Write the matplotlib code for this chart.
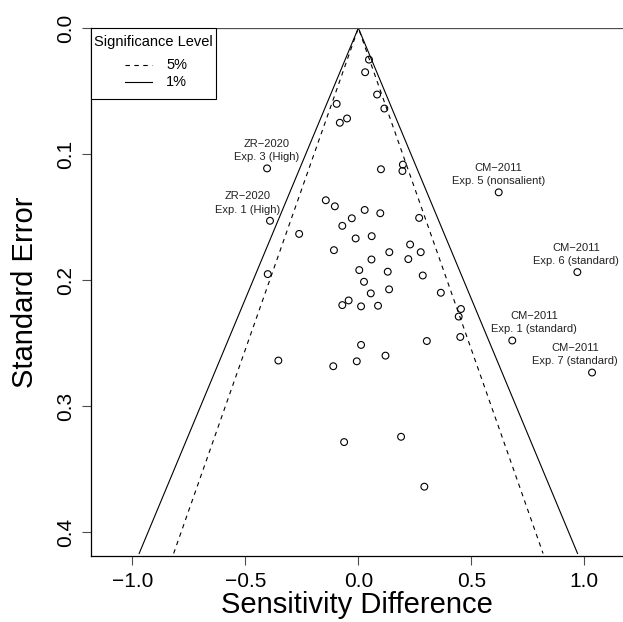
import numpy as np
import matplotlib
matplotlib.use("Agg")
import matplotlib.pyplot as plt
from matplotlib.patches import Rectangle

plt.rcParams['font.family'] = ['Liberation Sans', 'DejaVu Sans']

# effect sizes (sensitivity difference) and standard errors
diff = [0.047, 0.030, 0.083, 0.115, -0.096, -0.082, -0.050, 0.100, 0.197, 0.195,
        -0.262, -0.401, -0.144, -0.104, 0.028, 0.097, -0.029, -0.071, -0.012, 0.059,
        -0.108, 0.058, 0.004, 0.269, 0.229, 0.137, 0.276, 0.221, 0.130, 0.285,
        0.025, 0.055, 0.136, 0.365, -0.071, -0.043, 0.012, 0.087, 0.012, -0.354,
        -0.111, -0.007, 0.120, 0.303, -0.063, 0.189, 0.454, 0.444, 0.451, 0.292]
se = [0.0251, 0.0351, 0.0528, 0.0639, 0.0602, 0.0752, 0.0718, 0.1121, 0.1084, 0.1135,
      0.1634, 0.1953, 0.1367, 0.1415, 0.1444, 0.1470, 0.1510, 0.1570, 0.1670, 0.1652,
      0.1763, 0.1837, 0.1921, 0.1507, 0.1718, 0.1779, 0.1779, 0.1834, 0.1934, 0.1964,
      0.2014, 0.2106, 0.2074, 0.2101, 0.2199, 0.2162, 0.2209, 0.2204, 0.2515, 0.2639,
      0.2684, 0.2645, 0.2600, 0.2484, 0.3286, 0.3244, 0.2230, 0.2290, 0.2452, 0.3640]

# labelled studies, with where their labels sit
lab_diff = [-0.404, -0.391, 0.621, 0.969, 0.681, 1.034]
lab_se = [0.1114, 0.1530, 0.1304, 0.1937, 0.2480, 0.2734]
lab_text_x = [-0.404, -0.491, 0.620, 0.963, 0.777, 0.959]
lab_text = ["ZR\u22122020\nExp. 3 (High)", "ZR\u22122020\nExp. 1 (High)",
            "CM\u22122011\nExp. 5 (nonsalient)", "CM\u22122011\nExp. 6 (standard)",
            "CM\u22122011\nExp. 1 (standard)", "CM\u22122011\nExp. 7 (standard)"]

levels = ["5%", "1%"]
z_crit = [1.96, 2.326]
styles = [(0, (4, 4)), '-']

se_max = 0.417

fig = plt.figure(figsize=(6.23, 6.22), dpi=100)
ax = fig.add_axes([91 / 623, 66 / 622, 1 - 91 / 623, (556 - 28) / 622])

for z, ls in zip(z_crit, styles):
    ax.plot([-z * se_max, 0, z * se_max], [se_max, 0, se_max], color='black',
            lw=0.8, ls=ls)

ax.axhline(0, color='0.3', lw=0.9)

ax.scatter(diff + lab_diff, se + lab_se, s=24, facecolors='none',
           edgecolors='black', linewidths=0.8, zorder=3)

for x, tx, y, t in zip(lab_diff, lab_text_x, lab_se, lab_text):
    ax.annotate(t, (tx, y), xytext=(0, 4.5), textcoords='offset points',
                ha='center', va='bottom', fontsize=8, color='#222222',
                linespacing=1.4)

ax.set_xlim(-1.183, 1.171)
ax.set_ylim(se_max + 0.002, 0)
ax.set_xticks([-1.0, -0.5, 0.0, 0.5, 1.0])
ax.set_xticklabels(['\u22121.0', '\u22120.5', '0.0', '0.5', '1.0'])
ax.set_yticks([0.0, 0.1, 0.2, 0.3, 0.4])
ax.set_yticklabels(['0.0', '0.1', '0.2', '0.3', '0.4'], rotation=90, va='center')
ax.tick_params(labelsize=15, length=6.5, width=0.8, color='0.3', pad=5)
ax.spines['top'].set_visible(False)
ax.spines['right'].set_visible(False)
ax.spines['left'].set_linewidth(0.9)
ax.spines['bottom'].set_linewidth(0.9)

ax.set_xlabel('Sensitivity Difference', fontsize=21, labelpad=0)
ax.set_ylabel('Standard Error', fontsize=21, labelpad=12)

# legend box drawn by hand (R style spacing)
tr = ax.transAxes
ax.add_patch(Rectangle((0, 0.8655), 0.235, 0.1345, transform=tr, facecolor='white',
                       edgecolor='black', lw=0.8, clip_on=False, zorder=5))
ax.text(0.1165, 0.974, 'Significance Level', transform=tr, ha='center', va='center',
        fontsize=10.5, zorder=6)
for lev, ls, ly in zip(levels, styles, [0.930, 0.898]):
    ax.plot([0.0639, 0.1147], [ly, ly], transform=tr, color='black', lw=0.8, ls=ls,
            zorder=6, clip_on=False)
    ax.text(0.141, ly, lev, transform=tr, ha='left', va='center', fontsize=10.5,
            zorder=6)

fig.savefig('out.png', dpi=100)
